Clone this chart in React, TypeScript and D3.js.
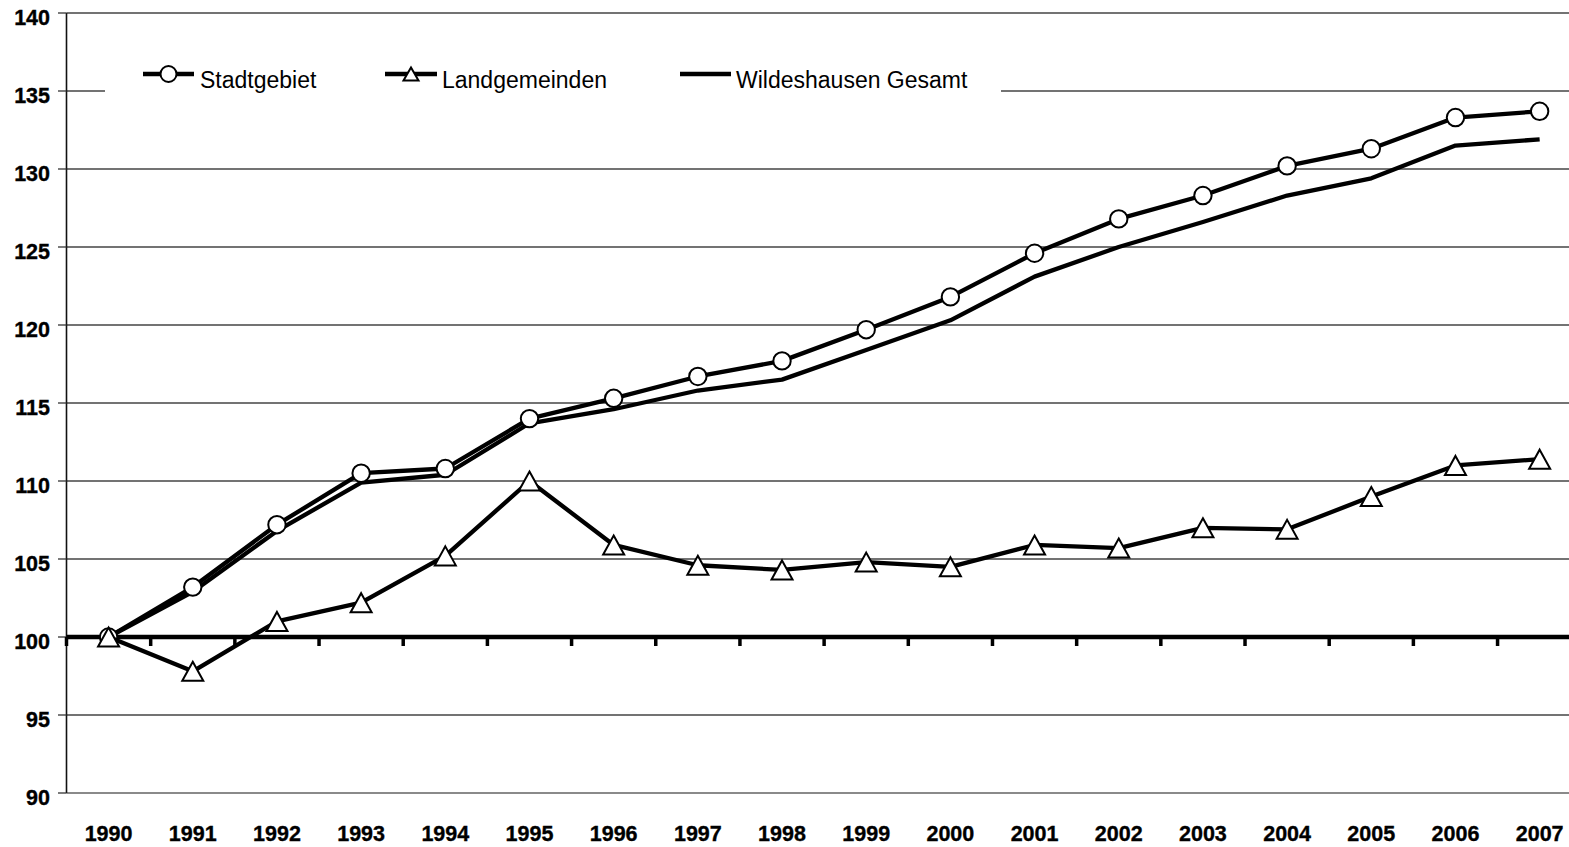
import React from "react";
import * as d3 from "d3";

const years = ["1990","1991","1992","1993","1994","1995","1996","1997","1998","1999","2000","2001","2002","2003","2004","2005","2006","2007"];
const stadtgebiet = [100, 103.2, 107.2, 110.5, 110.8, 114.0, 115.3, 116.7, 117.7, 119.7, 121.8, 124.6, 126.8, 128.3, 130.2, 131.3, 133.3, 133.7];
const landgemeinden = [100, 97.8, 101.0, 102.2, 105.2, 110.0, 105.9, 104.6, 104.3, 104.8, 104.5, 105.9, 105.7, 107.0, 106.9, 109.0, 111.0, 111.4];
const gesamt = [100, 102.9, 106.8, 109.9, 110.4, 113.7, 114.6, 115.8, 116.5, 118.4, 120.3, 123.1, 125.0, 126.6, 128.3, 129.4, 131.5, 131.9];
const yTicks = [90, 95, 100, 105, 110, 115, 120, 125, 130, 135, 140];
const legendLabels = ["Stadtgebiet", "Landgemeinden", "Wildeshausen Gesamt"];

const W = 1569, H = 847;
const FONT = "'Liberation Sans', Arial, Helvetica, sans-serif";

export default function App() {
  const step = 84.18;
  const left = 66.5;
  const x = d3.scaleBand<string>().domain(years).range([left, left + step * years.length]);
  const cx = (yr: string) => (x(yr) as number) + x.bandwidth() / 2;
  const y = d3.scaleLinear().domain([90, 140]).range([793, 13]);
  const line = d3.line<number>().x((_, i) => cx(years[i])).y((v) => y(v));

  const tri = (px: number, py: number, s = 21, h = 19) =>
    `M${px},${py - h / 2} L${px + s / 2},${py + h / 2} L${px - s / 2},${py + h / 2} Z`;

  const boundaries = d3.range(years.length + 1).map((k) => left + k * x.bandwidth());

  return (
    <svg width={W} height={H} style={{ position: "absolute", left: 0, top: 0, background: "#fff" }} fontFamily={FONT}>
      {yTicks.map((t) =>
        t === 100 ? null : (
          <line key={"g" + t} x1={left} x2={W} y1={y(t)} y2={y(t)} stroke={t === 90 ? "#8a8a8a" : "#444"} strokeWidth={t === 90 ? 2 : 1.3} />
        )
      )}
      <line x1={left} x2={left} y1={y(140)} y2={y(90)} stroke="#111" strokeWidth={1.6} />
      {yTicks.map((t) => (
        <g key={"yt" + t}>
          <line x1={58} x2={left} y1={y(t)} y2={y(t)} stroke="#333" strokeWidth={1.3} />
          <text x={50} y={y(t) + 12} textAnchor="end" fontSize={21.5} fontWeight="bold" fill="#000" stroke="#000" strokeWidth={0.35}>{t}</text>
        </g>
      ))}
      <line x1={left} x2={W} y1={y(100)} y2={y(100)} stroke="#000" strokeWidth={4.5} />
      {boundaries.map((bx, i) => (
        <line key={"xt" + i} x1={bx} x2={bx} y1={y(100)} y2={y(100) + 9} stroke="#000" strokeWidth={3.5} />
      ))}
      {years.map((yr) => (
        <text key={"xl" + yr} x={cx(yr)} y={841} textAnchor="middle" fontSize={21.5} fontWeight="bold" fill="#000" stroke="#000" strokeWidth={0.35}>{yr}</text>
      ))}

      <rect x={105} y={52} width={896} height={58} fill="#fff" />
      <g>
        <line x1={143} x2={194} y1={74} y2={74} stroke="#000" strokeWidth={4.5} />
        <circle cx={168.5} cy={74} r={8} fill="#fff" stroke="#000" strokeWidth={2} />
        <text x={200} y={88} fontSize={23} fill="#000">{legendLabels[0]}</text>
        <line x1={385} x2={437} y1={74} y2={74} stroke="#000" strokeWidth={4.5} />
        <path d={tri(411, 74, 15, 13)} fill="#fff" stroke="#000" strokeWidth={2} />
        <text x={442} y={88} fontSize={23} fill="#000">{legendLabels[1]}</text>
        <line x1={680} x2={731} y1={74} y2={74} stroke="#000" strokeWidth={4.5} />
        <text x={736} y={88} fontSize={23} fill="#000">{legendLabels[2]}</text>
      </g>

      <path d={line(gesamt) || ""} fill="none" stroke="#000" strokeWidth={4.3} strokeLinejoin="round" />
      <path d={line(stadtgebiet) || ""} fill="none" stroke="#000" strokeWidth={4.3} strokeLinejoin="round" />
      {stadtgebiet.map((v, i) => (
        <circle key={"c" + i} cx={cx(years[i])} cy={y(v)} r={8.7} fill="#fff" stroke="#000" strokeWidth={2} />
      ))}
      <path d={line(landgemeinden) || ""} fill="none" stroke="#000" strokeWidth={4.3} strokeLinejoin="round" />
      {landgemeinden.map((v, i) => (
        <path key={"t" + i} d={tri(cx(years[i]), y(v))} fill="#fff" stroke="#000" strokeWidth={2} />
      ))}
    </svg>
  );
}
